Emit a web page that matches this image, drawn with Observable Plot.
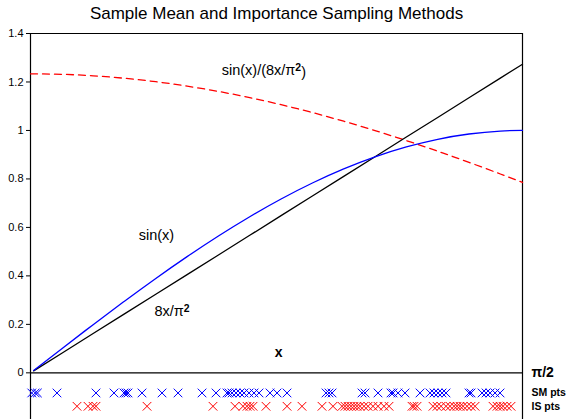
<!DOCTYPE html>
<html><head><meta charset="utf-8">
<script src="https://cdn.jsdelivr.net/npm/d3@7"></script>
<script src="https://cdn.jsdelivr.net/npm/@observablehq/plot@0.6"></script>
<style>body{margin:0;background:#fff} svg{display:block}</style>
</head><body><div id="chart"></div>
<script>
// Curve samples
const curveX   = [0.01, 0.1, 0.2, 0.3, 0.4, 0.5, 0.6, 0.7, 0.8, 0.9, 1.0, 1.1, 1.2, 1.3, 1.4, 1.5, 1.5708];
const sinY     = [0.0100, 0.0998, 0.1987, 0.2955, 0.3894, 0.4794, 0.5646, 0.6442, 0.7174, 0.7833, 0.8415, 0.8912, 0.9320, 0.9636, 0.9854, 0.9975, 1.0000];
const linY     = [0.0081, 0.0811, 0.1621, 0.2432, 0.3242, 0.4053, 0.4863, 0.5674, 0.6485, 0.7295, 0.8106, 0.8916, 0.9727, 1.0537, 1.1348, 1.2159, 1.2732];
const ratioX   = [0, 0.1, 0.2, 0.3, 0.4, 0.5, 0.6, 0.7, 0.8, 0.9, 1.0, 1.1, 1.2, 1.3, 1.4, 1.5, 1.5708];
const ratioY   = [1.2337, 1.2316, 1.2255, 1.2153, 1.2011, 1.1829, 1.1610, 1.1354, 1.1063, 1.0738, 1.0381, 0.9995, 0.9582, 0.9144, 0.8684, 0.8204, 0.7854];

// Sample points
const smPts = [0.004, 0.015, 0.022, 0.0846, 0.2091, 0.2666, 0.2985, 0.3049, 0.3113, 0.3560, 0.4199, 0.4710, 0.5476, 0.5923, 0.6274, 0.6338, 0.6434, 0.6561, 0.6689, 0.6817, 0.6977, 0.7136, 0.7296, 0.7647, 0.7871, 0.8190, 0.9435, 0.9531, 0.9627, 1.0584, 1.0680, 1.1095, 1.1510, 1.1574, 1.1734, 1.1957, 1.2436, 1.2755, 1.2883, 1.3011, 1.3139, 1.3266, 1.4001, 1.4065, 1.4416, 1.4544, 1.4672, 1.4831, 1.4991];
const isPts = [0.1485, 0.1836, 0.1996, 0.2091, 0.3720, 0.5827, 0.6529, 0.6785, 0.6913, 0.7008, 0.7104, 0.7519, 0.8190, 0.8668, 0.9307, 0.9658, 0.9946, 1.0041, 1.0137, 1.0233, 1.0329, 1.0424, 1.0520, 1.0648, 1.0776, 1.0935, 1.1095, 1.1287, 1.1446, 1.2181, 1.2245, 1.2341, 1.2851, 1.2979, 1.3107, 1.3266, 1.3394, 1.3522, 1.3618, 1.3714, 1.3810, 1.3937, 1.4065, 1.4193, 1.4767, 1.4895, 1.4991, 1.5086, 1.5214, 1.5342];
const smRowY = -0.083;
const isRowY = -0.138;

// Axis ticks
const yTicks = [0, 0.2, 0.4, 0.6, 0.8, 1, 1.2, 1.4];
const yTickLabels = ["0", "0.2", "0.4", "0.6", "0.8", "1", "1.2", "1.4"];
const xMax = Math.PI / 2;
const yMin = -0.1925, yMax = 1.4;

// Texts
const titleText = "Sample Mean and Importance Sampling Methods";
const curveLabels = [
  {text: "sin(x)/(8x/π^2)", x: 0.745, y: 1.247},
  {text: "sin(x)", x: 0.402, y: 0.566},
  {text: "8x/π^2", x: 0.452, y: 0.254}
];
const xLabel = [{text: "x", x: 0.792, y: 0.082}];
const rightLabels = [
  {text: "π/2", y: 0, size: 14},
  {text: "SM pts", y: smRowY, size: 10.5},
  {text: "IS pts", y: isRowY, size: 10.5}
];

const svg = Plot.plot({
  width: 569, height: 419,
  marginLeft: 30, marginRight: 47, marginTop: 33, marginBottom: 0,
  style: {fontFamily: "'Liberation Sans', Arial, sans-serif", background: "#fff", color: "#000", overflow: "visible"},
  x: {domain: [0, xMax], axis: null},
  y: {domain: [yMin, yMax], axis: null},
  marks: [
    Plot.axisY({ticks: yTicks, tickFormat: d => yTickLabels[yTicks.indexOf(d)], tickSize: 4, tickPadding: 3, fontSize: 11, label: null, anchor: "left"}),
    Plot.ruleX([0, xMax], {y1: yMin, y2: yMax, stroke: "#000", strokeWidth: 1.2}),
    Plot.ruleY([yMax], {x1: 0, x2: xMax, stroke: "#000", strokeWidth: 1.2}),
    Plot.ruleY([0], {x1: 0, x2: xMax, stroke: "#000", strokeWidth: 1.2}),
    Plot.line(ratioX, {x: d => d, y: (d, i) => ratioY[i], stroke: "#ff0000", strokeWidth: 1.3, strokeDasharray: "7,5", curve: "natural"}),
    Plot.line(curveX, {x: d => d, y: (d, i) => linY[i], stroke: "#000", strokeWidth: 1.3}),
    Plot.line(curveX, {x: d => d, y: (d, i) => sinY[i], stroke: "#0000ff", strokeWidth: 1.3, curve: "natural"}),
    Plot.dot(smPts, {x: d => d, y: () => smRowY, symbol: "times", r: 4, stroke: "#0000ff", strokeWidth: 1}),
    Plot.dot(isPts, {x: d => d, y: () => isRowY, symbol: "times", r: 4, stroke: "#ff0000", strokeWidth: 1}),
    Plot.text(curveLabels, {x: "x", y: "y", text: "text", fontSize: 14.5, fill: "#000", textAnchor: "middle"}),
    Plot.text(xLabel, {x: "x", y: "y", text: "text", fontSize: 14, fontWeight: "bold", fill: "#000"}),
    Plot.text(rightLabels, {x: () => xMax, y: "y", text: "text", fontSize: d => d.size, fontWeight: "bold", fill: "#000", textAnchor: "start", dx: 9}),
    Plot.text([titleText], {x: () => xMax / 2, y: () => yMax, text: d => d, fontSize: 17, fill: "#000", dy: -20, textAnchor: "middle"})
  ]
});

// superscripts
d3.select(svg).selectAll("text").each(function() {
  const t = this.textContent;
  if (t.includes("^2")) {
    const [a, b] = t.split("^2");
    const el = d3.select(this);
    el.text(null);
    el.append("tspan").text(a);
    el.append("tspan").attr("dy", "-0.42em").attr("font-size", "0.72em").attr("font-weight", "bold").text("2");
    el.append("tspan").attr("dy", "0.42em").text(b);
  }
});

document.getElementById("chart").appendChild(svg);
</script></body></html>
